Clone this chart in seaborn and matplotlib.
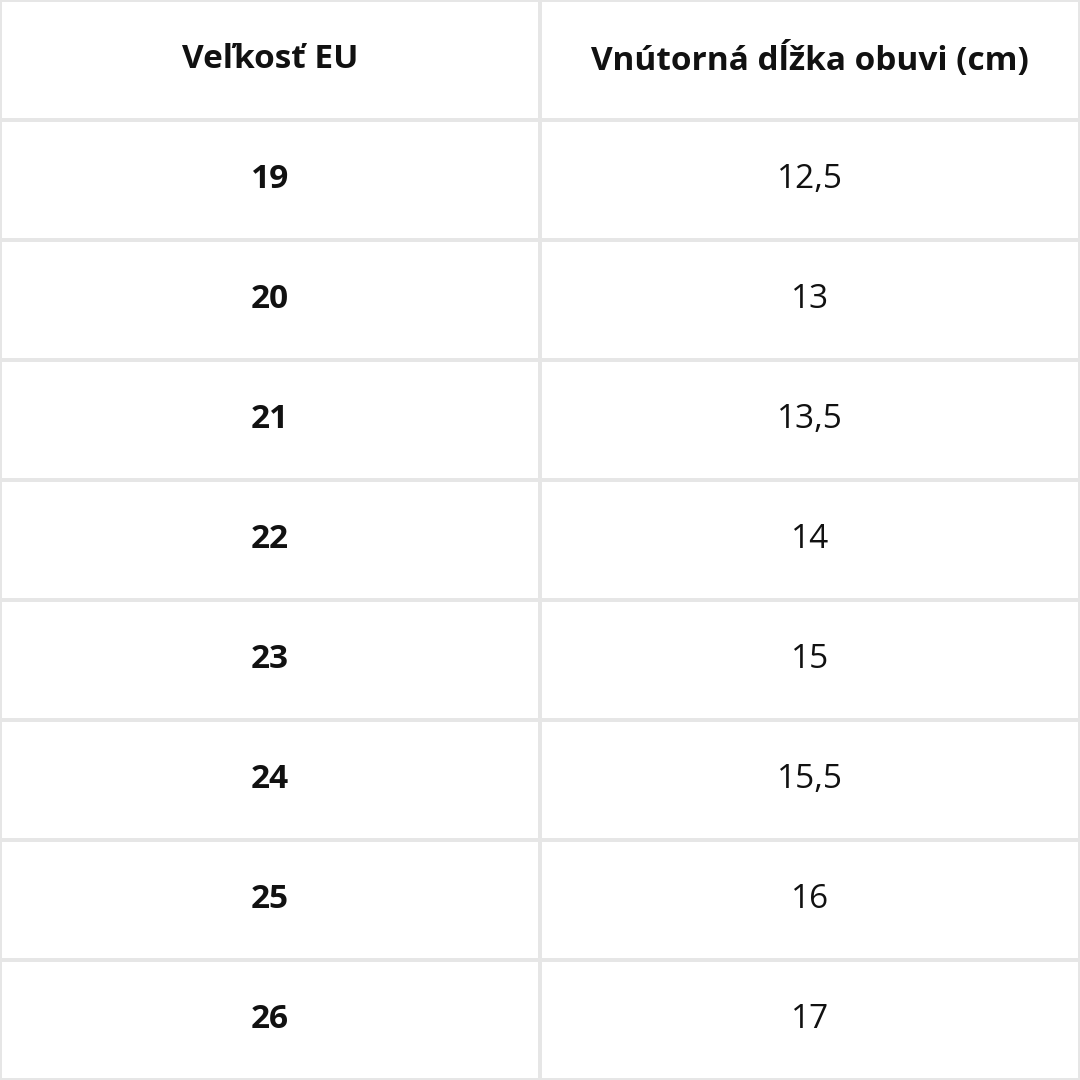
import numpy as np
import seaborn as sns
import matplotlib.pyplot as plt

headers = ['Veľkosť EU', 'Vnútorná dĺžka obuvi (cm)']
sizes = ['19', '20', '21', '22', '23', '24', '25', '26']
lengths = ['12,5', '13', '13,5', '14', '15', '15,5', '16', '17']

sns.set_style('white')
plt.rcParams['font.family'] = ['Open Sans', 'DejaVu Sans']

fig = plt.figure(figsize=(10.8, 10.8), dpi=100)
ax = fig.add_axes([0, 0, 1, 1])
grid = np.zeros((len(sizes) + 1, 2))
sns.heatmap(grid, cmap=['white'], cbar=False, linewidths=1.5,
            linecolor='#e6e6e6', ax=ax)
for s in ax.spines.values():
    s.set_visible(True)
    s.set_color('#e6e6e6')
    s.set_linewidth(1.5)
ax.set_xticks([])
ax.set_yticks([])

for j, h in enumerate(headers):
    ax.text(j + 0.5, 0.5, h, ha='center', va='center', fontsize=24,
            fontweight='bold', color='#111111')
for i, (s, l) in enumerate(zip(sizes, lengths)):
    ax.text(0.5, i + 1.5, s, ha='center', va='center', fontsize=24,
            fontweight='bold', color='#111111')
    ax.text(1.5, i + 1.5, l, ha='center', va='center', fontsize=24,
            color='#111111')

fig.savefig('out.png', dpi=100)
